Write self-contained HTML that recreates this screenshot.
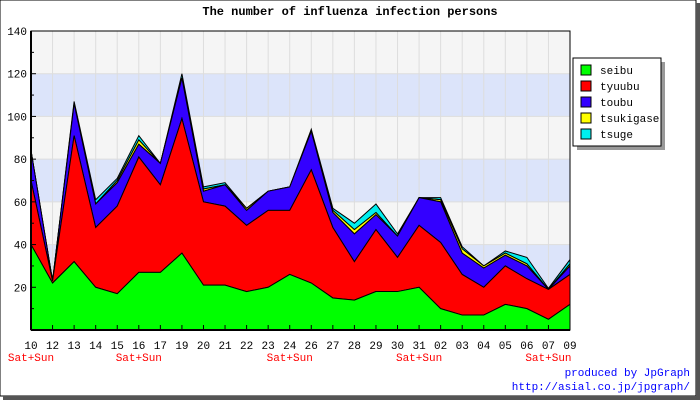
<!DOCTYPE html>
<html><head><meta charset="utf-8"><style>
body{margin:0;background:#fff}
svg{display:block;font-family:"Liberation Mono",monospace}
</style></head><body>
<svg id="c" width="700" height="400">
<rect x="0" y="0" width="696" height="396" fill="#fff" stroke="#000"/>
<rect x="696" y="3" width="4" height="397" fill="#555"/>
<rect x="3" y="396" width="697" height="4" fill="#555"/>
<text x="350" y="15" text-anchor="middle" font-size="12" font-weight="bold">The number of influenza infection persons</text>
<g id="bands"></g><g id="grid"></g><g id="areas"></g><g id="axes"></g>
<g>
<rect x="577" y="62" width="88" height="88" fill="#999"/>
<rect x="573" y="58" width="88" height="88" fill="#fff" stroke="#000"/>
<g id="legend"></g>
</g>
<text x="690" y="376" text-anchor="end" font-size="11" fill="#00f">produced by JpGraph</text>
<text x="690" y="390" text-anchor="end" font-size="11" fill="#00f">http://asial.co.jp/jpgraph/</text>
</svg>
<script>
const categories=["10","12","13","14","15","16","17","19","20","21","22","23","24","26","27","28","29","30","31","02","03","04","05","06","07","09"];
const seibu=[40,22,32,20,17,27,27,36,21,21,18,20,26,22,15,14,18,18,20,10,7,7,12,10,5,12];
const tyuubu=[30,1,59,28,41,54,41,63,39,37,31,36,30,53,33,18,29,16,29,31,19,13,18,14,14,14];
const toubu=[14,0,15,11,11,6,10,19,5,10,7,9,11,18,7,13,7,10,13,19,10,9,5,6,0,4];
const tsukigase=[0,0,0,0,1,2,0,0,1,0,1,0,0,0,1,2,1,0,0,1,2,1,1,1,0,1];
const tsuge=[0,0,1,2,1,2,0,2,1,1,0,0,0,1,1,3,4,1,0,1,1,0,1,3,0.5,2];
const seriesNames=["seibu","tyuubu","toubu","tsukigase","tsuge"];
const yTicks=[20,40,60,80,100,120,140];
const weekendIdx=[0,5,12,18,24];
const X0=31,X1=570,Y0=330,Y1=31,YMAX=140;
const colors=["#00ff00","#ff0000","#3300ff","#ffff00","#00eeee"];
const ns="http://www.w3.org/2000/svg";
function xs(i){return X0+i*(X1-X0)/(categories.length-1);}
function ys(v){return Y0-v*(Y0-Y1)/YMAX;}
function mk(t,a,p){const e=document.createElementNS(ns,t);for(const k in a)e.setAttribute(k,a[k]);p.appendChild(e);return e;}
const bands=document.getElementById('bands');
for(let v=0;v<YMAX;v+=20){
 const r=mk('rect',{x:X0,y:ys(v+20),width:X1-X0,height:ys(v)-ys(v+20),fill:(v/20)%2?'#dce4fa':'#f5f5f5'},bands);
 
 
}
const grid=document.getElementById('grid');
yTicks.forEach(v=>{const l=mk('line',{x1:X0,x2:X1,y1:ys(v),y2:ys(v),stroke:'#ddd'},grid);
 
 });
categories.forEach((c,i)=>{const l=mk('line',{x1:xs(i),x2:xs(i),y1:Y1,y2:Y0,stroke:'#ddd'},grid);
 
 });
const data=[seibu,tyuubu,toubu,tsukigase,tsuge];
const areas=document.getElementById('areas');
let base=categories.map(()=>0);
const paths=[];
data.forEach((s,k)=>{
 const top=base.map((b,i)=>b+s[i]);
 let d='M'+categories.map((c,i)=>xs(i)+','+ys(top[i])).join(' L');
 for(let i=categories.length-1;i>=0;i--)d+=' L'+xs(i)+','+ys(base[i]);
 paths.push({d,k});
 base=top;
});
paths.slice().reverse().forEach(p=>{
 const e=mk('path',{d:p.d+'Z',fill:colors[p.k],stroke:'#000','stroke-width':1},areas);
 
 
});
const axes=document.getElementById('axes');
mk('rect',{x:X0,y:Y1,width:X1-X0,height:Y0-Y1,fill:'none',stroke:'#000'},axes);
mk('line',{x1:X0,x2:X0,y1:Y1,y2:Y0,stroke:'#000','stroke-width':2},axes);
mk('line',{x1:X0,x2:X1,y1:Y0,y2:Y0,stroke:'#000','stroke-width':2},axes);
yTicks.forEach(v=>{
 const t=mk('text',{x:X0-4,y:ys(v)+4,'text-anchor':'end','font-size':11},axes);t.textContent=v;
 
 
 mk('line',{x1:X0,x2:X0+5,y1:ys(v),y2:ys(v),stroke:'#000'},axes);
 mk('line',{x1:X0,x2:X0+3,y1:ys(v-10),y2:ys(v-10),stroke:'#000'},axes);
});
categories.forEach((c,i)=>{
 mk('line',{x1:xs(i),x2:xs(i),y1:Y0,y2:Y0-5,stroke:'#000'},axes);
 const t=mk('text',{x:xs(i),y:349,'text-anchor':'middle','font-size':11},axes);t.textContent=c;
 
 
});
weekendIdx.forEach(i=>{
 const t=mk('text',{x:xs(i),y:361,'text-anchor':'middle','font-size':11,fill:'#f00'},axes);t.textContent='Sat+Sun';
 
 
});
const lg=document.getElementById('legend');
seriesNames.forEach((n,k)=>{
 const y=63+k*16;
 const r=mk('rect',{x:581,y:y+2,width:10,height:10,fill:colors[k],stroke:'#000'},lg);
 
 
 const t=mk('text',{x:600,y:y+11,'font-size':11},lg);t.textContent=n;
 
 
});
</script>
</body></html>
